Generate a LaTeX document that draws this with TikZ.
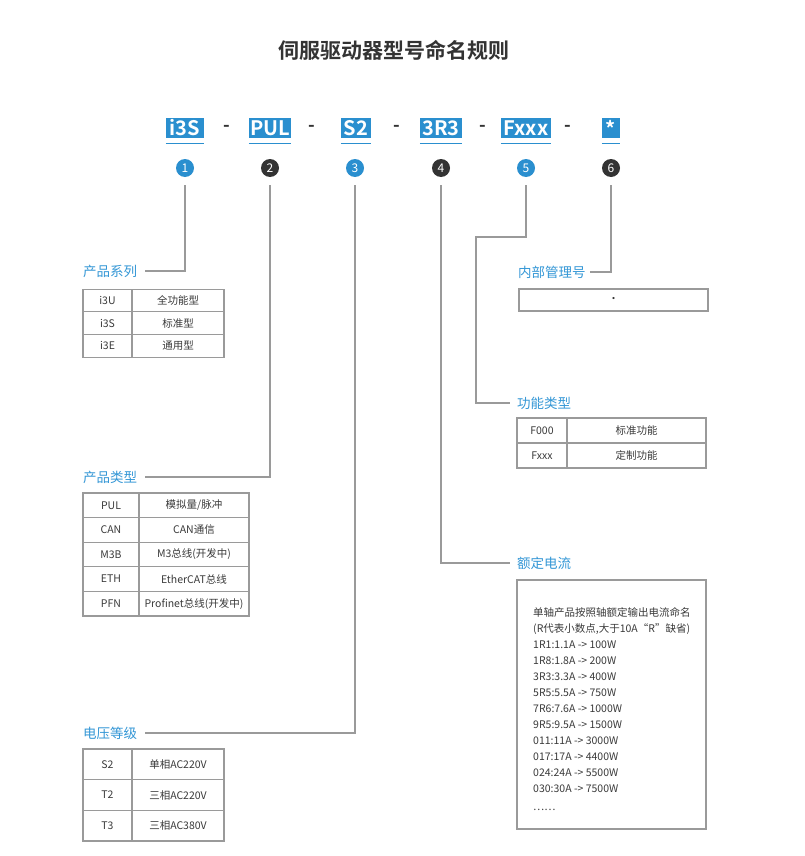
\documentclass[tikz,border=0pt]{standalone}
\usepackage{fontspec}
\setmainfont{Noto Sans CJK SC}[BoldFont={Noto Sans CJK SC Bold}]
\definecolor{myblue}{HTML}{2A8FCF}
\definecolor{labblue}{HTML}{3497D6}
\definecolor{mydark}{HTML}{333333}
\definecolor{lgray}{HTML}{9A9A9A}
\definecolor{txt}{HTML}{3A3A3A}
\tikzset{
  codebox/.style={fill=myblue,text=white,inner sep=0pt,minimum height=20pt,font=\fontsize{20}{22}\bfseries\selectfont},
  uline/.style={draw=myblue,line width=1.1pt},
  dashtxt/.style={text=mydark,inner sep=0pt,font=\fontsize{18}{20}\bfseries\selectfont},
  numblue/.style={circle,fill=myblue,text=white,inner sep=0pt,minimum size=18pt,font=\fontsize{12}{12}\selectfont},
  numdark/.style={circle,fill=mydark,text=white,inner sep=0pt,minimum size=18pt,font=\fontsize{12}{12}\selectfont},
  conn/.style={draw=lgray,line width=1.2pt},
  lab/.style={text=labblue,inner sep=0pt,font=\fontsize{13.5}{16}\selectfont},
  cell/.style={draw=lgray,line width=1.2pt,inner sep=0pt,text=txt,font=\fontsize{10.5}{12}\selectfont},
  bline/.style={inner sep=0pt,text=txt,font=\fontsize{10.5}{12}\selectfont,anchor=base west},
}
\begin{document}
\begin{tikzpicture}[x=1pt,y=-1pt]
\useasboundingbox[fill=white] (0,0) rectangle (805,856);

% title
\node[text=mydark,inner sep=0pt,font=\fontsize{21}{24}\bfseries\selectfont] (title) at (393.5,50) {伺服驱动器型号命名规则};

% code row
\node[codebox,minimum width=38pt] (b1) at (185,128) {i3S};
\node[codebox,minimum width=42pt] (b2) at (270,128) {PUL};
\node[codebox,minimum width=30pt] (b3) at (356,128) {S2};
\node[codebox,minimum width=42pt] (b4) at (441,128) {3R3};
\node[codebox,minimum width=50pt] (b5) at (526,128) {Fxxx};
\node[codebox,minimum width=18pt] (b6) at (611,128) {*};
\foreach \i in {1,...,6}{
  \draw[uline] ([yshift=-5pt]b\i.south west) -- ([yshift=-5pt]b\i.south east);
}
\node[dashtxt] (d1) at (227,128) {-};
\node[dashtxt] (d2) at (312,128) {-};
\node[dashtxt] (d3) at (397,128) {-};
\node[dashtxt] (d4) at (483,128) {-};
\node[dashtxt] (d5) at (568,128) {-};

% numbers
\node[numblue] (c1) at (185,168) {1};
\node[numdark] (c2) at (270,168) {2};
\node[numblue] (c3) at (355,168) {3};
\node[numdark] (c4) at (441,168) {4};
\node[numblue] (c5) at (526,168) {5};
\node[numdark] (c6) at (611,168) {6};

% labels
\node[lab,anchor=west] (l1) at (83,271) {产品系列};
\node[lab,anchor=west] (l2) at (83,477) {产品类型};
\node[lab,anchor=west] (l3) at (83,733) {电压等级};
\node[lab,anchor=west] (l4) at (517,563) {额定电流};
\node[lab,anchor=west] (l5) at (517,403) {功能类型};
\node[lab,anchor=west] (l6) at (518,272) {内部管理号};

% connectors
\draw[conn,shorten <=8pt,shorten >=8pt] (c1.south) |- (l1.east);
\draw[conn,shorten <=8pt,shorten >=8pt] (c2.south) |- (l2.east);
\draw[conn,shorten <=8pt,shorten >=8pt] (c3.south) |- (l3.east);
\draw[conn,shorten <=8pt,shorten >=7pt] (c4.south) |- (l4.west);
\coordinate (k5) at (476,237);
\draw[conn,shorten <=8pt,shorten >=7pt] (c5.south) |- (k5) |- (l5.west);
\draw[conn,shorten <=8pt,shorten >=4pt] (c6.south) |- (l6.east);

% table 1 : 产品系列
\node[cell,minimum width=49pt,minimum height=22.7pt] (t1a1) at (107.5,300.5) {i3U};
\node[cell,minimum width=92pt,minimum height=22.7pt] (t1b1) at (178,300.5) {全功能型};
\node[cell,minimum width=49pt,minimum height=22.7pt] (t1a2) at (107.5,323.2) {i3S};
\node[cell,minimum width=92pt,minimum height=22.7pt] (t1b2) at (178,323.2) {标准型};
\node[cell,minimum width=49pt,minimum height=22.7pt] (t1a3) at (107.5,345.9) {i3E};
\node[cell,minimum width=92pt,minimum height=22.7pt] (t1b3) at (178,345.9) {通用型};

% table 2 : 产品类型
\node[cell,minimum width=56pt,minimum height=24.6pt] (t2a1) at (111,505.3) {PUL};
\node[cell,minimum width=110pt,minimum height=24.6pt] (t2b1) at (194,505.3) {模拟量/脉冲};
\node[cell,minimum width=56pt,minimum height=24.6pt] (t2a2) at (111,529.9) {CAN};
\node[cell,minimum width=110pt,minimum height=24.6pt] (t2b2) at (194,529.9) {CAN通信};
\node[cell,minimum width=56pt,minimum height=24.6pt] (t2a3) at (111,554.5) {M3B};
\node[cell,minimum width=110pt,minimum height=24.6pt] (t2b3) at (194,554.5) {M3总线(开发中)};
\node[cell,minimum width=56pt,minimum height=24.6pt] (t2a4) at (111,579.1) {ETH};
\node[cell,minimum width=110pt,minimum height=24.6pt] (t2b4) at (194,579.1) {EtherCAT总线};
\node[cell,minimum width=56pt,minimum height=24.6pt] (t2a5) at (111,603.7) {PFN};
\node[cell,minimum width=110pt,minimum height=24.6pt] (t2b5) at (194,603.7) {Profinet总线(开发中)};

% table 3 : 电压等级
\node[cell,minimum width=49pt,minimum height=30.7pt] (t3a1) at (107.5,764.3) {S2};
\node[cell,minimum width=92pt,minimum height=30.7pt] (t3b1) at (178,764.3) {单相AC220V};
\node[cell,minimum width=49pt,minimum height=30.7pt] (t3a2) at (107.5,795) {T2};
\node[cell,minimum width=92pt,minimum height=30.7pt] (t3b2) at (178,795) {三相AC220V};
\node[cell,minimum width=49pt,minimum height=30.7pt] (t3a3) at (107.5,825.7) {T3};
\node[cell,minimum width=92pt,minimum height=30.7pt] (t3b3) at (178,825.7) {三相AC380V};

% box : 内部管理号
\node[cell,minimum width=189pt,minimum height=22pt] (t6) at (613.5,300) {\textcolor{mydark}{·}};

% table 5 : 功能类型
\node[cell,minimum width=50pt,minimum height=25pt] (t5a1) at (542,430.5) {F000};
\node[cell,minimum width=139pt,minimum height=25pt] (t5b1) at (636.5,430.5) {标准功能};
\node[cell,minimum width=50pt,minimum height=25pt] (t5a2) at (542,455.5) {Fxxx};
\node[cell,minimum width=139pt,minimum height=25pt] (t5b2) at (636.5,455.5) {定制功能};

% box : 额定电流
\node[cell,minimum width=189pt,minimum height=249pt] (t4) at (611.5,704.5) {};
\node[bline] (r1) at (533,616) {单轴产品按照轴额定输出电流命名};
\node[bline] (r2) at (533,632) {(R代表小数点,大于10A“R”缺省)};
\node[bline] (r3) at (533,648) {1R1:1.1A -> 100W};
\node[bline] (r4) at (533,664) {1R8:1.8A -> 200W};
\node[bline] (r5) at (533,680) {3R3:3.3A -> 400W};
\node[bline] (r6) at (533,696) {5R5:5.5A -> 750W};
\node[bline] (r7) at (533,712) {7R6:7.6A -> 1000W};
\node[bline] (r8) at (533,728) {9R5:9.5A -> 1500W};
\node[bline] (r9) at (533,744) {011:11A -> 3000W};
\node[bline] (r10) at (533,760) {017:17A -> 4400W};
\node[bline] (r11) at (533,776) {024:24A -> 5500W};
\node[bline] (r12) at (533,792) {030:30A -> 7500W};
\node[bline] (r13) at (533,810) {……};
\end{tikzpicture}
\end{document}
